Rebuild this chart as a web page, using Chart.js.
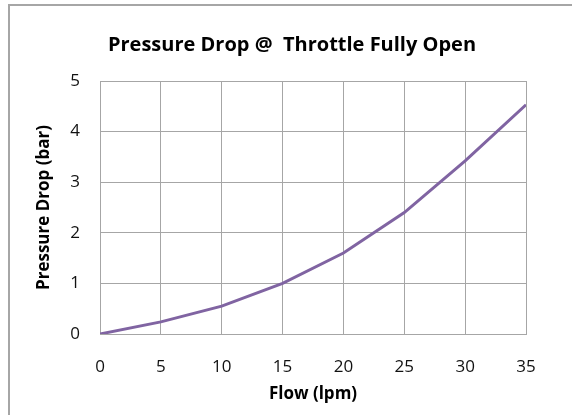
<!DOCTYPE html>
<html>
<head>
<meta charset="utf-8">
<script src="https://cdn.jsdelivr.net/npm/chart.js@4/dist/chart.umd.min.js"></script>
<style>
  html, body { margin: 0; padding: 0; background: #fff; overflow: hidden; width: 572px; height: 415px; }
  #frame { position: absolute; left: 8px; top: 4px; width: 700px; height: 600px; border: 2px solid #a6a6a6; box-sizing: border-box; }
  #c { position: absolute; left: 0; top: 0; }
</style>
</head>
<body>
<div id="frame"></div>
<canvas id="c" width="572" height="415"></canvas>
<script>
const chartTitle = "Pressure Drop @  Throttle Fully Open";
const xAxisTitle = "Flow (lpm)";
const yAxisTitle = "Pressure Drop (bar)";
const flow = [0, 5, 10, 15, 20, 25, 30, 35];
const pressureDrop = [0, 0.24, 0.55, 1.0, 1.6, 2.4, 3.42, 4.53];
const xTicks = [0, 5, 10, 15, 20, 25, 30, 35];
const yTicks = [0, 1, 2, 3, 4, 5];

const FONT = "'Open Sans', Lato, sans-serif";

const titlePlugin = {
  id: 'customTitle',
  afterDraw(chart) {
    const ctx = chart.ctx;
    ctx.save();
    ctx.font = "bold 20px " + FONT;
    ctx.fillStyle = "#000";
    ctx.textAlign = "center";
    ctx.textBaseline = "middle";
    ctx.fillText(chartTitle, 292, 45);
    ctx.restore();
  }
};

new Chart(document.getElementById('c'), {
  type: 'scatter',
  data: {
    datasets: [{
      data: flow.map((x, i) => ({ x: x, y: pressureDrop[i] })),
      showLine: true,
      borderColor: '#8064a2',
      borderWidth: 3,
      pointRadius: 0,
      tension: 0,
      fill: false
    }]
  },
  options: {
    responsive: false,
    animation: false,
    layout: { padding: { top: 81, left: 14, right: 46, bottom: 0 } },
    plugins: { legend: { display: false }, tooltip: { enabled: false }, title: { display: false } },
    scales: {
      x: {
        type: 'linear', min: 0, max: 35,
        afterBuildTicks: s => { s.ticks = xTicks.map(v => ({ value: v })); },
        afterFit: s => { s.height = 81; },
        grid: { color: '#a6a6a6', lineWidth: 1, drawTicks: false },
        border: { color: '#a6a6a6', width: 1 },
        ticks: { padding: 23, color: '#111', font: { family: FONT, size: 17 }, maxRotation: 0 },
        title: { display: true, text: xAxisTitle, color: '#000', font: { family: FONT, size: 17, weight: 'bold' }, padding: { top: 0, bottom: 11 } }
      },
      y: {
        type: 'linear', min: 0, max: 5,
        afterBuildTicks: s => { s.ticks = yTicks.map(v => ({ value: v })); },
        afterFit: s => { s.width = 86; },
        grid: { color: '#a6a6a6', lineWidth: 1, drawTicks: false },
        border: { color: '#a6a6a6', width: 1 },
        ticks: { padding: 20, color: '#111', font: { family: FONT, size: 17 } },
        title: { display: true, text: yAxisTitle, color: '#000', font: { family: FONT, size: 17, weight: 'bold' }, padding: { top: 20, bottom: 0 } }
      }
    }
  },
  plugins: [titlePlugin]
});
</script>
</body>
</html>
